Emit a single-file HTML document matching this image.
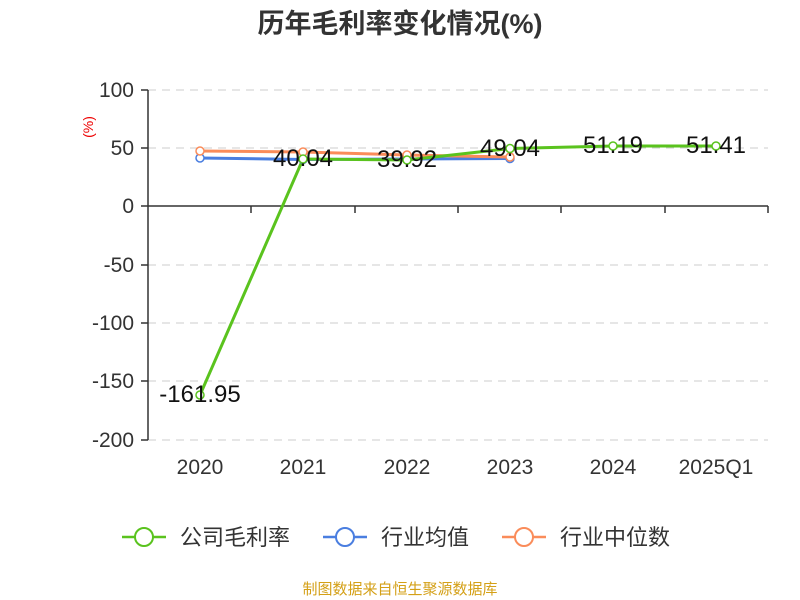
<!DOCTYPE html>
<html><head><meta charset="utf-8"><style>body{margin:0;background:#fff}svg{display:block;font-family:"Liberation Sans","Noto Sans CJK SC",sans-serif}</style></head><body>
<svg width="800" height="600" viewBox="0 0 800 600">
<text x="400" y="33" text-anchor="middle" font-size="27" font-weight="bold" fill="#333">历年毛利率变化情况(%)</text>
<text x="93" y="127" font-size="14" fill="#e00" transform="rotate(-90 93 127)" text-anchor="middle">(%)</text>
<g stroke="#ccc" stroke-dasharray="8,6" stroke-width="1">
<line x1="148" y1="90" x2="768" y2="90"/><line x1="148" y1="148" x2="768" y2="148"/><line x1="148" y1="265" x2="768" y2="265"/><line x1="148" y1="323" x2="768" y2="323"/><line x1="148" y1="381" x2="768" y2="381"/><line x1="148" y1="440" x2="768" y2="440"/>
</g>
<g stroke="#333" stroke-width="1.5" fill="none">
<line x1="148" y1="90" x2="148" y2="440"/>
<line x1="148" y1="206" x2="768" y2="206"/>
<line x1="141" y1="90" x2="148" y2="90"/><line x1="141" y1="148" x2="148" y2="148"/><line x1="141" y1="206" x2="148" y2="206"/><line x1="141" y1="265" x2="148" y2="265"/><line x1="141" y1="323" x2="148" y2="323"/><line x1="141" y1="381" x2="148" y2="381"/><line x1="141" y1="440" x2="148" y2="440"/>
<line x1="251" y1="206" x2="251" y2="213"/><line x1="355" y1="206" x2="355" y2="213"/><line x1="458" y1="206" x2="458" y2="213"/><line x1="561" y1="206" x2="561" y2="213"/><line x1="665" y1="206" x2="665" y2="213"/><line x1="768" y1="206" x2="768" y2="213"/>
</g>
<g font-size="21" fill="#333" text-anchor="end">
<text x="134" y="97">100</text><text x="134" y="155">50</text><text x="134" y="213">0</text><text x="134" y="272">-50</text><text x="134" y="330">-100</text><text x="134" y="388">-150</text><text x="134" y="447">-200</text>
</g>
<g font-size="21" fill="#333" text-anchor="middle">
<text x="200" y="474">2020</text><text x="303" y="474">2021</text><text x="407" y="474">2022</text><text x="510" y="474">2023</text><text x="613" y="474">2024</text><text x="716" y="474">2025Q1</text>
</g>
<polyline points="200,158 303,159.5 407,159 510,158.5" fill="none" stroke="#4a7ee0" stroke-width="3"/>
<polyline points="200,151 303,152 407,155 510,157" fill="none" stroke="#fa8c5a" stroke-width="3"/>
<polyline points="200,395 303,159 407,160 510,148.5 613,146 716,146" fill="none" stroke="#5ac31e" stroke-width="3"/>
<g fill="#fff" stroke-width="1.5">
<g stroke="#4a7ee0"><circle cx="200" cy="158" r="4"/><circle cx="303" cy="159.5" r="4"/><circle cx="407" cy="159" r="4"/><circle cx="510" cy="158.5" r="4"/></g>
<g stroke="#fa8c5a"><circle cx="200" cy="151" r="4"/><circle cx="303" cy="152" r="4"/><circle cx="407" cy="155" r="4"/><circle cx="510" cy="157" r="4"/></g>
<g stroke="#5ac31e"><circle cx="200" cy="395" r="4"/><circle cx="303" cy="159" r="4"/><circle cx="407" cy="160" r="4"/><circle cx="510" cy="148.5" r="4"/><circle cx="613" cy="146" r="4"/><circle cx="716" cy="146" r="4"/></g>
</g>
<g font-size="24" fill="#111" text-anchor="middle">
<text x="200" y="402">-161.95</text><text x="303" y="166">40.04</text><text x="407" y="167">39.92</text><text x="510" y="156">49.04</text><text x="613" y="153">51.19</text><text x="716" y="153">51.41</text>
</g>
<g font-size="22" fill="#333">
<line x1="122" y1="537" x2="166" y2="537" stroke="#5ac31e" stroke-width="2.5"/><circle cx="144" cy="537" r="9" fill="#fff" stroke="#5ac31e" stroke-width="2"/><text x="180" y="545">公司毛利率</text>
<line x1="323" y1="537" x2="367" y2="537" stroke="#4a7ee0" stroke-width="2.5"/><circle cx="345" cy="537" r="9" fill="#fff" stroke="#4a7ee0" stroke-width="2"/><text x="381" y="545">行业均值</text>
<line x1="502" y1="537" x2="546" y2="537" stroke="#fa8c5a" stroke-width="2.5"/><circle cx="524" cy="537" r="9" fill="#fff" stroke="#fa8c5a" stroke-width="2"/><text x="560" y="545">行业中位数</text>
</g>
<text x="400" y="594" font-size="15" fill="#d4a017" text-anchor="middle">制图数据来自恒生聚源数据库</text>
</svg>
</body></html>
